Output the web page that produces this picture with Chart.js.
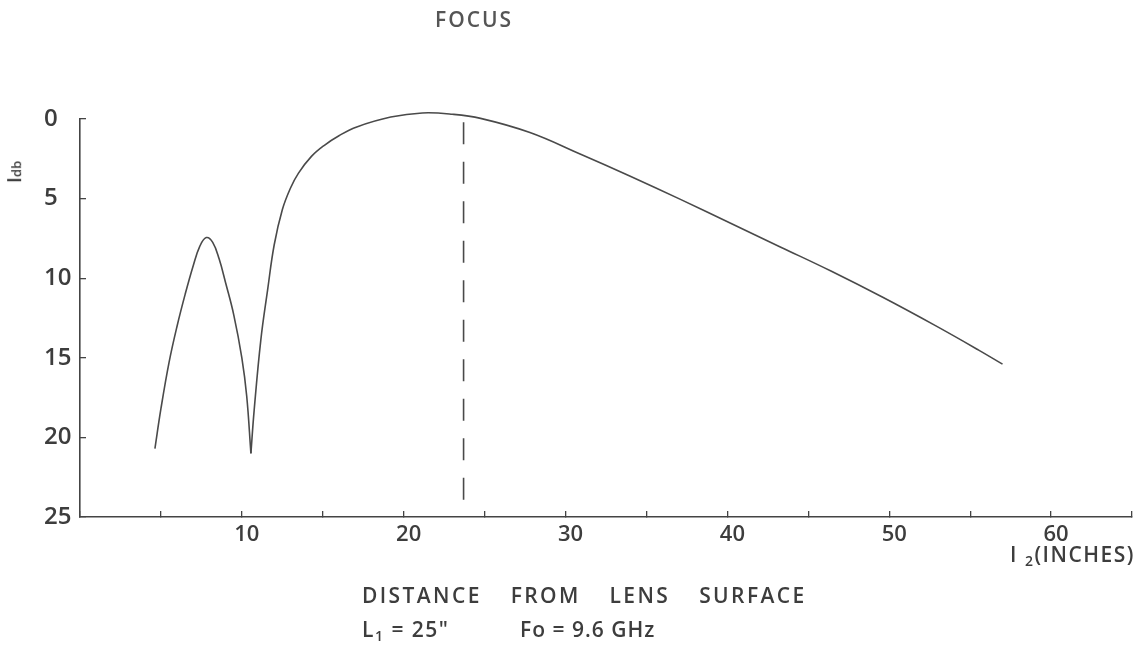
<!DOCTYPE html>
<html>
<head>
<meta charset="utf-8">
<script src="https://cdn.jsdelivr.net/npm/chart.js@4.4.1/dist/chart.umd.min.js"></script>
<style>
  body { margin: 0; background: #fff; }
  #wrap { position: relative; width: 1143px; height: 649px; font-family: "Open Sans", "DejaVu Sans", sans-serif; font-weight: 600; color: #3d3d3d; }
  .lbl { position: absolute; white-space: nowrap; line-height: 1; }
  sub { font-size: 14px; vertical-align: -4px; }
</style>
</head>
<body>
<div id="wrap">
  <canvas id="focusChart" width="1143" height="649"></canvas>
  <div class="lbl" style="left:435px; top:9px; font-size:21px; letter-spacing:2px; color:#555;">FOCUS</div>
  <div class="lbl" style="left:3px; top:162px; font-size:20px; transform:rotate(-90deg);">I<span style="font-size:13px;">db</span></div>
  <div class="lbl" style="right:8px; top:544px; font-size:21px; letter-spacing:1.5px;">I <sub>2</sub>(INCHES)</div>
  <div class="lbl" style="left:362px; top:585px; font-size:21px; letter-spacing:2.4px; word-spacing:21px;">DISTANCE FROM LENS SURFACE</div>
  <div class="lbl" style="left:362px; top:619px; font-size:21px; letter-spacing:1.5px;">L<sub>1</sub> = 25"</div>
  <div class="lbl" style="left:520px; top:619px; font-size:21px; letter-spacing:1px;">Fo = 9.6 GHz</div>
</div>
<script>
// distance from lens surface (inches) vs. intensity (db below peak)
const leftX = [4.63, 5.0, 5.5, 6.0, 6.5, 7.0, 7.4, 7.8, 8.2, 8.6, 9.0, 9.5, 10.0, 10.3, 10.56];
const leftY = [20.7, 18.2, 15.3, 13.0, 11.0, 9.2, 8.0, 7.45, 7.75, 8.8, 10.3, 12.3, 15.0, 17.4, 21.0];

const rightX = [10.56, 10.76, 11.17, 11.59, 12.0, 12.5, 13.0, 13.5, 14.3, 15.1, 16.0, 17.1, 19.2, 21.15, 23.0, 24.75, 27.8, 30.9, 34.0, 37.1, 40.2, 43.3, 46.4, 49.6, 52.8, 55.5, 57.0];
const rightY = [21.0, 18.3, 13.9, 10.75, 7.9, 5.7, 4.35, 3.4, 2.35, 1.65, 1.05, 0.5, -0.12, -0.38, -0.3, -0.04, 0.85, 2.2, 3.6, 5.05, 6.55, 8.05, 9.55, 11.2, 12.95, 14.5, 15.4];

// dashed marker at the focus
const focusX = [23.7, 23.7];
const focusY = [0.2, 25];

const xTickLabels = [10, 20, 30, 40, 50, 60];
const yTickLabels = [0, 5, 10, 15, 20, 25];

const toPoints = (xs, ys) => xs.map((x, i) => ({ x: x, y: ys[i] }));

const ink = '#444';
const curveStyle = {
    borderColor: '#4a4a4a',
    borderWidth: 1.6,
    pointRadius: 0,
    tension: 0.4,
    fill: false,
    clip: false
};

const ctx = document.getElementById('focusChart').getContext('2d');
const chart = new Chart(ctx, {
    type: 'line',
    data: {
        datasets: [
            Object.assign({ data: toPoints(leftX, leftY) }, curveStyle),
            Object.assign({ data: toPoints(rightX, rightY) }, curveStyle),
            {
                data: toPoints(focusX, focusY),
                borderColor: '#4a4a4a',
                borderWidth: 1.6,
                borderDash: [22, 17.5],
                pointRadius: 0,
                tension: 0,
                clip: false
            }
        ]
    },
    options: {
        responsive: false,
        animation: false,
        layout: { padding: { left: 44, top: 119, right: 10, bottom: 0 } },
        plugins: {
            legend: { display: false },
            tooltip: { enabled: false }
        },
        scales: {
            x: {
                type: 'linear',
                min: 0,
                max: 65,
                afterFit: (scale) => { scale.height = 132; },
                border: { display: true, color: ink, width: 1.6 },
                grid: { drawOnChartArea: false, tickLength: -6, color: ink, lineWidth: 1.3 },
                ticks: {
                    stepSize: 5,
                    autoSkip: false,
                    maxRotation: 0,
                    padding: 11,
                    labelOffset: 5,
                    color: '#3d3d3d',
                    font: { family: 'Open Sans', size: 22, weight: '600' },
                    callback: (v) => xTickLabels.includes(v) ? String(v) : ''
                }
            },
            y: {
                type: 'linear',
                reverse: true,
                min: 0,
                max: 25,
                afterFit: (scale) => { scale.width = 36; },
                border: { display: true, color: ink, width: 1.6 },
                grid: { drawOnChartArea: false, tickLength: -6, color: ink, lineWidth: 1.3 },
                ticks: {
                    stepSize: 5,
                    crossAlign: 'far',
                    padding: 0,
                    color: '#3d3d3d',
                    font: { family: 'Open Sans', size: 24, weight: '600' },
                    callback: (v) => yTickLabels.includes(v) ? String(v) : ''
                }
            }
        }
    }
});
</script>
</body>
</html>
